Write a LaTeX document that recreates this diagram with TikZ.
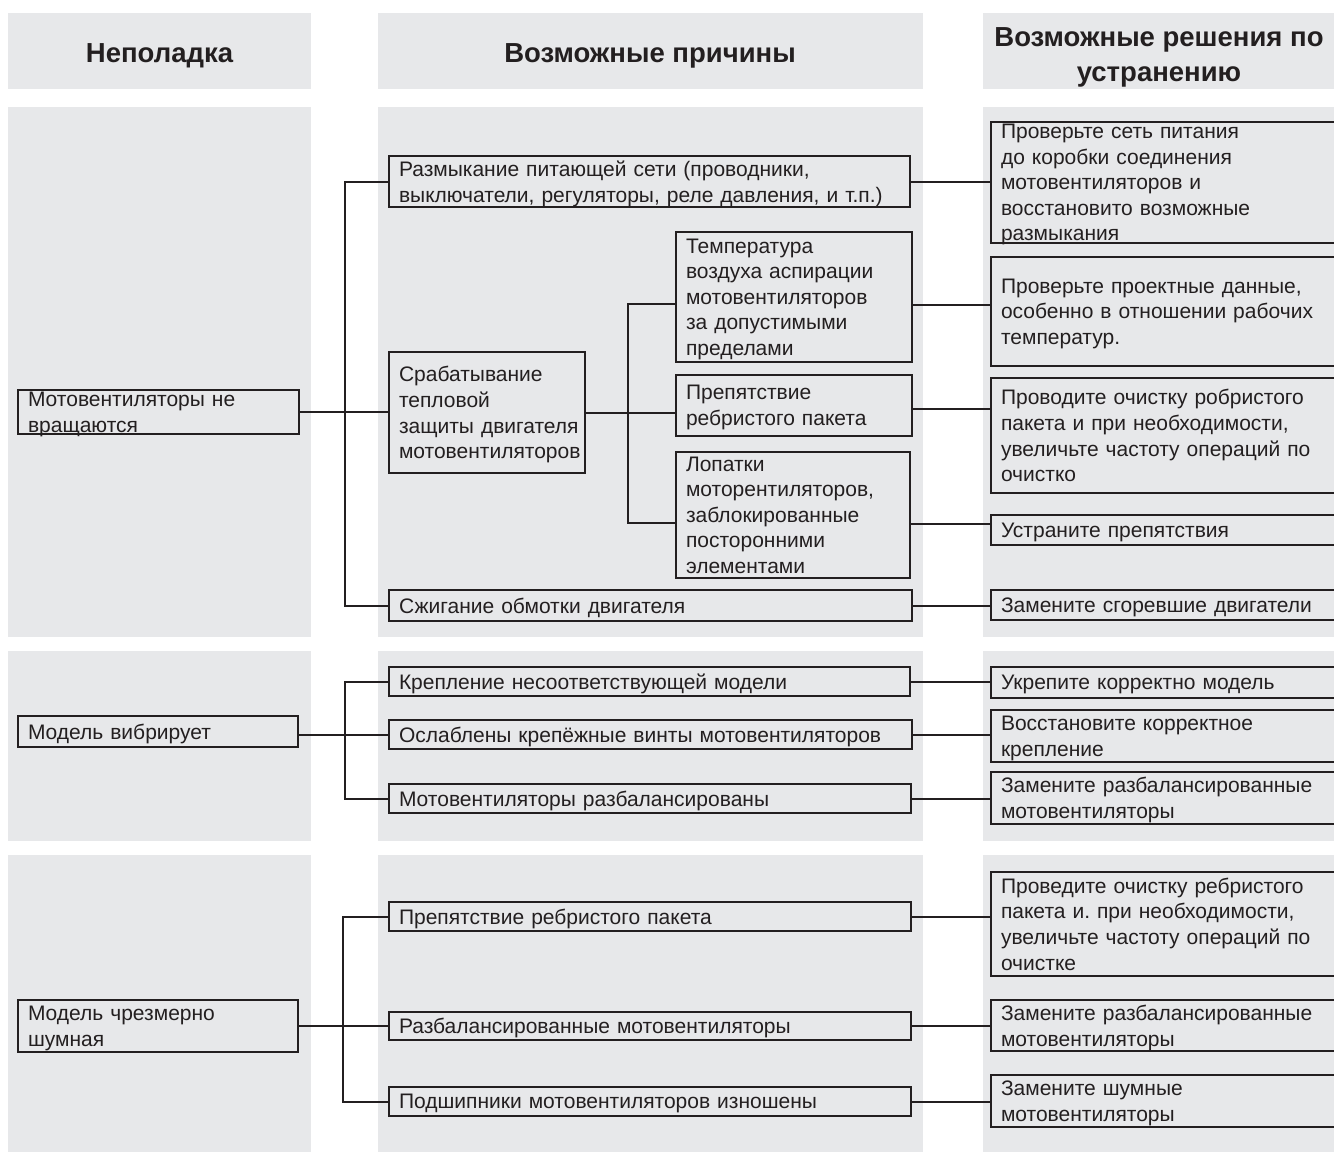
\documentclass[tikz,border=0pt]{standalone}
\usepackage{fontspec}
\setmainfont{Liberation Sans}
\definecolor{bggray}{RGB}{231,232,234}
\definecolor{ink}{RGB}{35,31,32}
\newcommand\myBody{\fontsize{21}{25.6}\selectfont\hyphenpenalty=10000\exhyphenpenalty=10000}
\newcommand\myHead{\fontsize{27.5}{35}\selectfont\bfseries}
\tikzset{
  bg/.style={fill=bggray, draw=none},
  bx/.style={draw=ink, line width=2pt, inner xsep=10pt, inner ysep=0pt, align=left,
             font=\myBody, text=ink, anchor=north west, outer sep=0pt},
  lone/.style={text depth=0pt},
  ltwo/.style={text depth=25.6pt},
  lthree/.style={text depth=51.2pt},
  lfour/.style={text depth=76.8pt},
  lfive/.style={text depth=102.4pt},
  conn/.style={draw=ink, line width=2pt},
  hd/.style={font=\myHead, text=ink, inner sep=0pt},
}
\begin{document}
\begin{tikzpicture}[x=1pt,y=-1pt]
\useasboundingbox (0,0) rectangle (1334,1152);
\clip (0,0) rectangle (1334,1152);
% background panels
\fill[bg] (8,13) rectangle (311,89);
\fill[bg] (378,13) rectangle (923,89);
\fill[bg] (983,13) rectangle (1334,89);
\fill[bg] (8,107) rectangle (311,637);
\fill[bg] (378,107) rectangle (923,637);
\fill[bg] (983,107) rectangle (1334,637);
\fill[bg] (8,651) rectangle (311,841);
\fill[bg] (378,651) rectangle (923,841);
\fill[bg] (983,651) rectangle (1334,841);
\fill[bg] (8,855) rectangle (311,1152);
\fill[bg] (378,855) rectangle (923,1152);
\fill[bg] (983,855) rectangle (1334,1152);
% headers
\node[hd, anchor=base] (h1) at (159.5,62) {Неполадка};
\node[hd, anchor=base] (h2) at (650,62) {Возможные причины};
\node[hd, anchor=north, align=center] (h3) at (1159,27.3) {Возможные решения по\\устранению};
% section 1
\node[bx, ltwo, minimum width=281pt, minimum height=44pt, text width=261pt] (p1) at (18,390) {Мотовентиляторы~не\\вращаются};
\node[bx, ltwo, minimum width=521pt, minimum height=51pt, text width=501pt] (c1) at (389,156) {Размыкание питающей сети (проводники,\\выключатели,~регуляторы,~реле~давления,~и~т.п.)};
\node[bx, lfour, minimum width=196pt, minimum height=121pt, text width=176pt] (c2) at (389,352) {Срабатывание\\тепловой\\защиты~двигателя\\мотовентиляторов};
\node[bx, lfive, minimum width=236pt, minimum height=130pt, text width=216pt] (s1) at (676,232) {Температура\\воздуха~аспирации\\мотовентиляторов\\за~допустимыми\\пределами};
\node[bx, ltwo, minimum width=236pt, minimum height=61pt, text width=216pt] (s2) at (676,375) {Препятствие\\ребристого~пакета};
\node[bx, lfive, minimum width=234pt, minimum height=126pt, text width=214pt] (s3) at (676,452) {Лопатки\\моторентиляторов,\\заблокированные\\посторонними\\элементами};
\node[bx, lone, minimum width=523pt, minimum height=31pt, text width=503pt] (c4) at (389,590) {Сжигание обмотки двигателя};
\node[bx, lfive, minimum width=360pt, minimum height=121pt, text width=340pt] (r1) at (991,122) {Проверьте~сеть~питания\\до~коробки~соединения\\мотовентиляторов~и\\восстановито~возможные\\размыкания};
\node[bx, lthree, minimum width=360pt, minimum height=109pt, text width=340pt] (r2) at (991,257) {Проверьте~проектные~данные,\\особенно~в~отношении~рабочих\\температур.};
\node[bx, lfour, minimum width=360pt, minimum height=115pt, text width=340pt] (r3) at (991,378) {Проводите~очистку~робристого\\пакета~и~при~необходимости,\\увеличьте~частоту~операций~по\\очистко};
\node[bx, lone, minimum width=360pt, minimum height=30pt, text width=340pt] (r4) at (991,515) {Устраните препятствия};
\node[bx, lone, minimum width=360pt, minimum height=30pt, text width=340pt] (r5) at (991,590) {Замените~сгоревшие~двигатели};
% section 1 connectors
\draw[conn] (p1.east) -- (p1.east -| c2.west);
\draw[conn] (c1.west) -- ++(-44,0) |- (c4.west);
\draw[conn] (c2.east) -- (c2.east -| s2.west);
\draw[conn] ([yshift=-7pt]s1.west) -- ++(-48,0) |- ([yshift=-8pt]s3.west);
\draw[conn] (c1.east) -- (c1.east -| r1.west);
\draw[conn] ([yshift=-8pt]s1.east) -- ([yshift=-8pt]s1.east -| r2.west);
\draw[conn] ([yshift=-3pt]s2.east) -- ([yshift=-3pt]s2.east -| r3.west);
\draw[conn] ([yshift=-9pt]s3.east) -- ([yshift=-9pt]s3.east -| r4.west);
\draw[conn] (c4.east) -- (c4.east -| r5.west);
% section 2
\node[bx, lone, minimum width=280pt, minimum height=31pt, text width=260pt] (p2) at (18,716) {Модель вибрирует};
\node[bx, lone, minimum width=521pt, minimum height=29pt, text width=501pt] (c5) at (389,667) {Крепление~несоответствующей~модели};
\node[bx, lone, minimum width=523pt, minimum height=29pt, text width=503pt] (c6) at (389,720) {Ослаблены~крепёжные~винты~мотовентиляторов};
\node[bx, lone, minimum width=522pt, minimum height=29pt, text width=502pt] (c7) at (389,784) {Мотовентиляторы~разбалансированы};
\node[bx, lone, minimum width=360pt, minimum height=31pt, text width=340pt] (r6) at (991,667) {Укрепите~корректно~модель};
\node[bx, ltwo, minimum width=360pt, minimum height=52pt, text width=340pt] (r7) at (991,710) {Восстановите~корректное\\крепление};
\node[bx, ltwo, minimum width=360pt, minimum height=52pt, text width=340pt] (r8) at (991,772) {Замените~разбалансированные\\мотовентиляторы};
\draw[conn] (p2.east |- c6.west) -- (c6.west);
\draw[conn] (c5.west) -- ++(-44,0) |- (c7.west);
\draw[conn] (c5.east) -- (c5.east -| r6.west);
\draw[conn] (c6.east) -- (c6.east -| r7.west);
\draw[conn] (c7.east) -- (c7.east -| r8.west);
% section 3
\node[bx, ltwo, minimum width=280pt, minimum height=52pt, text width=260pt] (p3) at (18,1000) {Модель~чрезмерно\\шумная};
\node[bx, lone, minimum width=522pt, minimum height=29pt, text width=502pt] (c8) at (389,902) {Препятствие~ребристого~пакета};
\node[bx, lone, minimum width=522pt, minimum height=28pt, text width=502pt] (c9) at (389,1012) {Разбалансированные~мотовентиляторы};
\node[bx, lone, minimum width=522pt, minimum height=29pt, text width=502pt] (c10) at (389,1087) {Подшипники~мотовентиляторов~изношены};
\node[bx, lfour, minimum width=360pt, minimum height=104pt, text width=340pt] (r9) at (991,872) {Проведите~очистку~ребристого\\пакета~и.~при~необходимости,\\увеличьте~частоту~операций~по\\очистке};
\node[bx, ltwo, minimum width=360pt, minimum height=51pt, text width=340pt] (r10) at (991,1000) {Замените~разбалансированные\\мотовентиляторы};
\node[bx, ltwo, minimum width=360pt, minimum height=52pt, text width=340pt] (r11) at (991,1075) {Замените~шумные\\мотовентиляторы};
\draw[conn] (p3.east) -- (p3.east -| c9.west);
\draw[conn] (c8.west) -- ++(-46,0) |- (c10.west);
\draw[conn] (c8.east) -- (c8.east -| r9.west);
\draw[conn] (c9.east) -- (c9.east -| r10.west);
\draw[conn] (c10.east) -- (c10.east -| r11.west);
\end{tikzpicture}
\end{document}
